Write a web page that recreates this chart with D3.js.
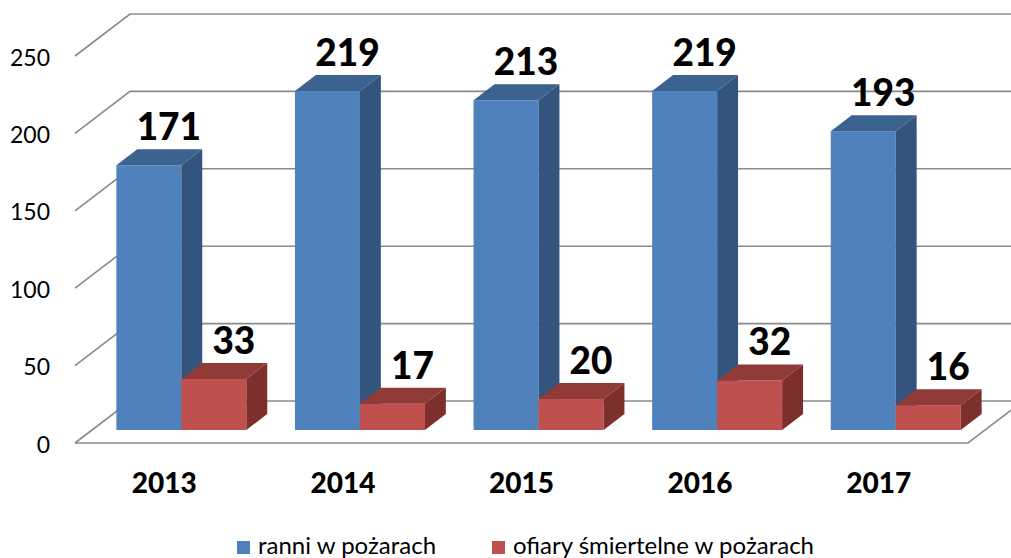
<!DOCTYPE html>
<meta charset="utf-8">
<style>
    body { margin: 0; background: #fff; }
    svg { font-family: Lato, "Open Sans", sans-serif; }
    .grid path { fill: none; stroke: #8a8a8a; stroke-width: 1.6px; }
    .ytick { font-size: 23px; fill: #000; }
    .year { font-size: 28px; font-weight: 900; fill: #000; }
    .val { font-size: 37px; font-weight: 900; fill: #000; }
    .legend text { font-size: 24px; fill: #000; }
</style>
<svg width="1011" height="558"></svg>
<script src="https://d3js.org/d3.v7.min.js"></script>
<script>

    var years = ["2013", "2014", "2015", "2016", "2017"];
    var series = ["ranni w pożarach", "ofiary śmiertelne w pożarach"];
    var ranni = [171, 219, 213, 219, 193];
    var ofiary = [33, 17, 20, 32, 16];
    var yTicks = [0, 50, 100, 150, 200, 250];

    var colors = {
        front: ["#4f81bd", "#c0504d"],
        top:   ["#3c6290", "#913b39"],
        side:  ["#33547d", "#7c2f2d"]
    };

    var svg = d3.select("svg");

    // depth of the 3d box (front edge -> back wall)
    var DX = 55, DY = -42;
    var z0 = 0.31, z1 = 0.69;

    var y = d3.scaleLinear().domain([0, 250]).range([443, 56]);
    var x = d3.scaleBand().domain(years).range([75, 968]);
    var x1 = d3.scaleBand().domain(series).range([24.3, x.bandwidth() - 24.3]);

    // walls and gridlines
    var grid = svg.append("g").attr("class", "grid");
    grid.selectAll("path.line")
        .data(yTicks)
        .enter().append("path")
        .attr("d", function (t) {
            return "M" + x.range()[0] + "," + y(t) +
                "L" + (x.range()[0] + DX) + "," + (y(t) + DY) +
                "L" + (x.range()[1] + DX) + "," + (y(t) + DY);
        });
    grid.append("path")
        .attr("d", "M" + x.range()[0] + "," + y(0) + "L" + x.range()[1] + "," + y(0) +
            "L" + (x.range()[1] + DX) + "," + (y(0) + DY));

    svg.append("g").selectAll("text")
        .data(yTicks)
        .enter().append("text")
        .attr("class", "ytick")
        .attr("text-anchor", "end")
        .attr("x", 50)
        .attr("y", function (t) { return y(t) + 9.5; })
        .text(function (t) { return t; });

    // bars
    var bars = [];
    years.forEach(function (yr, i) {
        bars.push({year: yr, s: 0, v: ranni[i]});
        bars.push({year: yr, s: 1, v: ofiary[i]});
    });

    var ddx = (z1 - z0) * DX, ddy = (z1 - z0) * DY;

    var bar = svg.append("g").selectAll("g")
        .data(bars)
        .enter().append("g")
        .each(function (d) {
            var g = d3.select(this);
            var xa = x(d.year) + x1(series[d.s]) + z0 * DX;
            var xb = xa + x1.bandwidth();
            var yb = y(0) + z0 * DY;
            var yt = y(d.v) + z0 * DY;
            d.cx = (xa + xb) / 2;
            d.top = yt;
            g.append("rect")
                .attr("x", xa).attr("y", yt)
                .attr("width", xb - xa).attr("height", yb - yt)
                .attr("fill", colors.front[d.s]);
            g.append("path")
                .attr("d", "M" + xa + "," + yt + "L" + xb + "," + yt + "L" + (xb + ddx) + "," + (yt + ddy) +
                    "L" + (xa + ddx) + "," + (yt + ddy) + "Z")
                .attr("fill", colors.top[d.s]);
            g.append("path")
                .attr("d", "M" + xb + "," + yt + "L" + xb + "," + yb + "L" + (xb + ddx) + "," + (yb + ddy) +
                    "L" + (xb + ddx) + "," + (yt + ddy) + "Z")
                .attr("fill", colors.side[d.s]);
        });

    svg.append("g").selectAll("text")
        .data(bars)
        .enter().append("text")
        .attr("class", "val")
        .attr("text-anchor", "middle")
        .attr("x", function (d) { return d.cx + 20; })
        .attr("y", function (d) { return d.top - 25; })
        .text(function (d) { return d.v; });

    svg.append("g").selectAll("text")
        .data(years)
        .enter().append("text")
        .attr("class", "year")
        .attr("text-anchor", "middle")
        .attr("x", function (d) { return x(d) + x.bandwidth() / 2; })
        .attr("y", 493)
        .text(function (d) { return d; });

    // legend
    var legend = svg.append("g").attr("class", "legend");
    var lx = [237, 492];
    series.forEach(function (s, i) {
        legend.append("rect")
            .attr("x", lx[i]).attr("y", 541)
            .attr("width", 13).attr("height", 13)
            .attr("fill", colors.front[i]);
        legend.append("text")
            .attr("x", lx[i] + 21).attr("y", 554)
            .text(s);
    });

</script>
